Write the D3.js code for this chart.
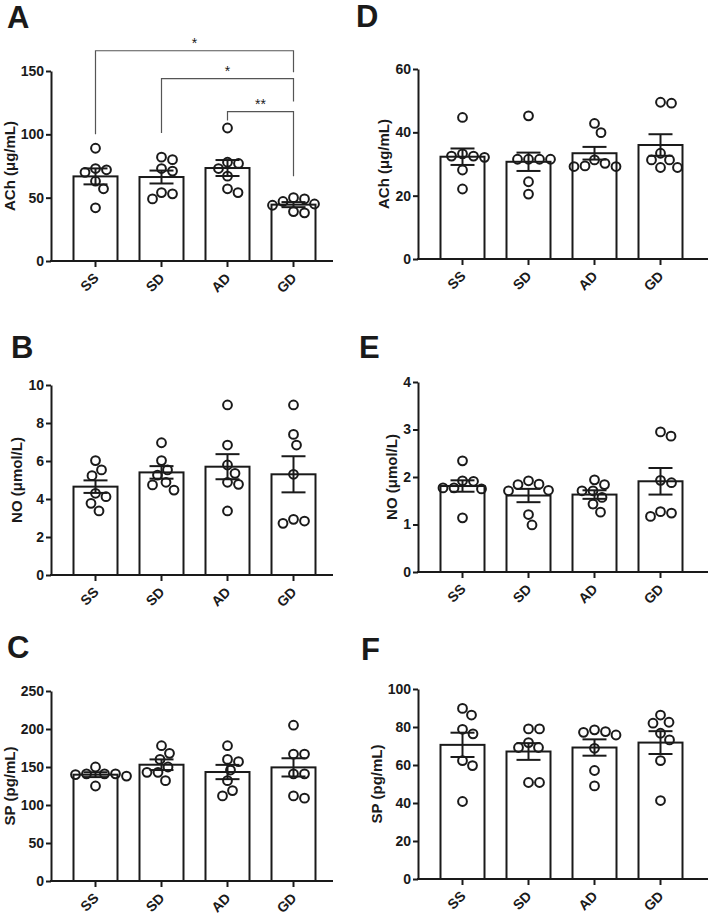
<!DOCTYPE html>
<html>
<head>
<meta charset="utf-8">
<script src="https://cdnjs.cloudflare.com/ajax/libs/d3/7.8.5/d3.min.js"></script>
<style>
	body { margin: 0; background: #fff; }
	svg text { font-family: Arial, "Liberation Sans", sans-serif; font-weight: bold; fill: #1a1a1a; }
</style>
</head>
<body>
<script>
	// groups on the x axis
	var groups = ["SS", "SD", "AD", "GD"];

	// A - ACh (first set)
	var achA = [
		[89, 73, 72, 70, 63, 57, 42],
		[82, 80, 73, 71, 54, 53, 49],
		[105, 78, 77, 73, 67, 57, 54],
		[50, 49, 47, 45, 44, 39, 38]
	];
	var achAMean = [66.8, 66.3, 73.4, 44.5];
	var achASem = [6.3, 5.1, 6.3, 2.0];
	var achATicks = [0, 50, 100, 150];

	// significance brackets on A
	var compA = [
		{ from: "SS", to: "GD", at: 166, fromEnd: 100, toEnd: 149, mark: "*" },
		{ from: "SD", to: "GD", at: 144, fromEnd: 101, toEnd: 126, mark: "*" },
		{ from: "AD", to: "GD", at: 118, fromEnd: 111, toEnd: 67, mark: "**" }
	];

	// B - NO (first set)
	var noB = [
		[6.02, 5.53, 5.23, 4.3, 4.12, 3.77, 3.37],
		[6.96, 6.02, 5.53, 5.26, 4.88, 4.74, 4.47],
		[8.95, 6.84, 5.79, 5.35, 4.88, 4.77, 3.37],
		[8.95, 7.4, 6.84, 5.3, 2.93, 2.84, 2.72]
	];
	var noBMean = [4.65, 5.4, 5.7, 5.3];
	var noBSem = [0.33, 0.33, 0.66, 0.95];
	var noBTicks = [0, 2, 4, 6, 8, 10];

	// C - SP (first set)
	var spC = [
		[150, 141, 141, 141, 140, 138, 125],
		[178, 168, 160, 150, 143, 143, 132],
		[178, 160, 157, 146, 132, 119, 112],
		[205, 167, 167, 141, 141, 112, 109]
	];
	var spCMean = [139.9, 153, 143.4, 149.5];
	var spCSem = [3.2, 7, 9.4, 12];
	var spCTicks = [0, 50, 100, 150, 200, 250];

	// D - ACh (second set)
	var achD = [
		[44.7, 33.2, 32.5, 32.5, 32.1, 28.1, 22.1],
		[45.2, 31.5, 31.5, 31.5, 31.5, 24.4, 20.5],
		[42.8, 39.9, 31.3, 30.2, 29.4, 29.2, 29.2],
		[49.5, 49.2, 33.4, 31.3, 31.3, 28.9, 28.9]
	];
	var achDMean = [32.3, 30.7, 33.4, 36];
	var achDSem = [2.6, 2.9, 2.0, 3.4];
	var achDTicks = [0, 20, 40, 60];

	// E - NO (second set)
	var noE = [
		[2.34, 1.92, 1.91, 1.77, 1.77, 1.75, 1.14],
		[1.92, 1.85, 1.84, 1.72, 1.71, 1.21, 0.99],
		[1.94, 1.84, 1.71, 1.71, 1.57, 1.43, 1.26],
		[2.95, 2.86, 1.93, 1.88, 1.27, 1.24, 1.17]
	];
	var noEMean = [1.81, 1.61, 1.63, 1.91];
	var noESem = [0.12, 0.14, 0.09, 0.28];
	var noETicks = [0, 1, 2, 3, 4];

	// F - SP (second set)
	var spF = [
		[89.8, 86.3, 78.8, 76.4, 62.3, 59.7, 40.8],
		[79, 79, 71.8, 69.2, 69.2, 50.8, 50.8],
		[78.5, 77.6, 77.2, 75.8, 68.8, 57.1, 49],
		[86.3, 82.5, 82, 76.7, 73.2, 62.3, 41.3]
	];
	var spFMean = [70.6, 67.1, 69.2, 71.8];
	var spFSem = [6.4, 4.4, 4.3, 6];
	var spFTicks = [0, 20, 40, 60, 80, 100];

	var panels = [
		{ letter: "A", title: "ACh (\u03bcg/mL)", pts: achA, mean: achAMean, sem: achASem, ticks: achATicks, comps: compA, col: 0, row: 0 },
		{ letter: "B", title: "NO (\u03bcmol/L)", pts: noB, mean: noBMean, sem: noBSem, ticks: noBTicks, col: 0, row: 1 },
		{ letter: "C", title: "SP (pg/mL)", pts: spC, mean: spCMean, sem: spCSem, ticks: spCTicks, col: 0, row: 2 },
		{ letter: "D", title: "ACh (\u03bcg/mL)", pts: achD, mean: achDMean, sem: achDSem, ticks: achDTicks, col: 1, row: 0 },
		{ letter: "E", title: "NO (\u03bcmol/L)", pts: noE, mean: noEMean, sem: noESem, ticks: noETicks, col: 1, row: 1 },
		{ letter: "F", title: "SP (pg/mL)", pts: spF, mean: spFMean, sem: spFSem, ticks: spFTicks, col: 1, row: 2 }
	];

	// layout
	var axisX = [51, 418],
		axisEnd = [333, 708],
		tops = [[71, 385, 691], [69, 382, 689]],
		letterX = [[7, 11, 7], [356, 359, 361]],
		letterY = [[28, 358, 658], [27, 358, 660]],
		plotH = 190,
		ink = "#1a1a1a",
		r = 4.4;

	var svg = d3.select("body")
		.append("svg")
			.attr("width", 709)
			.attr("height", 916);

	// spread equal-ish values sideways so circles don't overlap
	function swarm(vals, y, minDist) {
		var placed = [];
		vals.slice().sort(function(a, b) { return b - a; }).forEach(function(v) {
			var py = y(v);
			for (var k = 0; k < 400; k++) {
				var off = Math.ceil(k / 2) * (k % 2 ? 1 : -1) * 0.5;
				var ok = placed.every(function(p) {
					return Math.hypot(p.dx - off, p.y - py) >= minDist;
				});
				if (ok) {
					placed.push({ dx: off, y: py });
					break;
				}
			}
		});
		return placed;
	}

	panels.forEach(function(p) {
		var x0 = axisX[p.col],
			top = tops[p.col][p.row],
			y0 = top + plotH;

		var g = svg.append("g").attr("class", "panel");

		// panel letter
		g.append("text")
			.attr("x", letterX[p.col][p.row])
			.attr("y", letterY[p.col][p.row])
			.style("font-size", "31px")
			.text(p.letter);

		var y = d3.scaleLinear()
			.domain([0, p.ticks[p.ticks.length - 1]])
			.range([y0, top]);

		var x = d3.scaleBand()
			.domain(groups)
			.range([x0 + 11.5, x0 + 275.5])
			.paddingInner(1 / 3)
			.paddingOuter(1 / 6);

		// bars
		g.selectAll("rect.bar")
			.data(groups)
			.enter()
			.append("rect")
			.attr("class", "bar")
			.attr("x", function(d) { return x(d); })
			.attr("y", function(d, i) { return y(p.mean[i]); })
			.attr("width", x.bandwidth())
			.attr("height", function(d, i) { return y0 - y(p.mean[i]); })
			.attr("fill", "#fff")
			.attr("stroke", ink)
			.attr("stroke-width", 2);

		// points
		groups.forEach(function(gr, i) {
			var cx = x(gr) + x.bandwidth() / 2;
			g.selectAll(null)
				.data(swarm(p.pts[i], y, 11))
				.enter()
				.append("circle")
				.attr("cx", function(d) { return cx + d.dx; })
				.attr("cy", function(d) { return d.y; })
				.attr("r", r)
				.attr("fill", "none")
				.attr("stroke", ink)
				.attr("stroke-width", 2);
		});

		// sem error bars
		groups.forEach(function(gr, i) {
			var cx = x(gr) + x.bandwidth() / 2,
				hi = y(p.mean[i] + p.sem[i]),
				lo = y(p.mean[i] - p.sem[i]);
			var eb = g.append("g")
				.attr("stroke", ink)
				.attr("stroke-width", 2);
			eb.append("line").attr("x1", cx).attr("x2", cx).attr("y1", hi).attr("y2", lo);
			eb.append("line").attr("x1", cx - 12).attr("x2", cx + 12).attr("y1", hi).attr("y2", hi);
			eb.append("line").attr("x1", cx - 12).attr("x2", cx + 12).attr("y1", lo).attr("y2", lo);
		});

		// y axis
		var yAxis = g.append("g")
			.attr("transform", "translate(" + x0 + ",0)")
			.call(d3.axisLeft(y).tickValues(p.ticks).tickFormat(d3.format("d"))
				.tickSize(5).tickSizeOuter(0).tickPadding(2));
		yAxis.select(".domain").attr("stroke", ink).attr("stroke-width", 2);
		yAxis.selectAll(".tick line").attr("stroke", ink).attr("stroke-width", 2);
		yAxis.selectAll(".tick text").style("font-size", "14px").attr("fill", ink);

		// x axis line and ticks
		g.append("line")
			.attr("x1", x0 - 1)
			.attr("x2", axisEnd[p.col])
			.attr("y1", y0)
			.attr("y2", y0)
			.attr("stroke", ink)
			.attr("stroke-width", 2);

		var xAxis = g.append("g")
			.attr("transform", "translate(0," + y0 + ")")
			.call(d3.axisBottom(x).tickSize(6).tickSizeOuter(0));
		xAxis.select(".domain").remove();
		xAxis.selectAll(".tick line").attr("stroke", ink).attr("stroke-width", 2);

		// rotated group labels
		xAxis.selectAll(".tick text").remove();
		xAxis.selectAll(".tick")
			.append("text")
			.attr("transform", "translate(4,18) rotate(-45)")
			.attr("text-anchor", "end")
			.style("font-size", "14px")
			.text(function(d) { return d; });

		// y axis title, placed left of the tick labels
		var bb = yAxis.node().getBBox();
		g.append("text")
			.attr("transform", "translate(" + (x0 + bb.x - 6) + "," + (top + plotH / 2) + ") rotate(-90)")
			.attr("text-anchor", "middle")
			.style("font-size", "15px")
			.text(p.title);

		// significance brackets
		if (p.comps) {
			p.comps.forEach(function(c) {
				var xa = x(c.from) + x.bandwidth() / 2,
					xb = x(c.to) + x.bandwidth() / 2;
				g.append("path")
					.attr("d", "M" + xa + "," + y(c.fromEnd) + "V" + y(c.at) + "H" + xb + "V" + y(c.toEnd))
					.attr("fill", "none")
					.attr("stroke", "#555")
					.attr("stroke-width", 1.2);
				g.append("text")
					.attr("x", (xa + xb) / 2)
					.attr("y", y(c.at) - 3)
					.attr("text-anchor", "middle")
					.style("font-size", "14px")
					.style("font-weight", "normal")
					.text(c.mark);
			});
		}
	});
</script>
</body>
</html>
